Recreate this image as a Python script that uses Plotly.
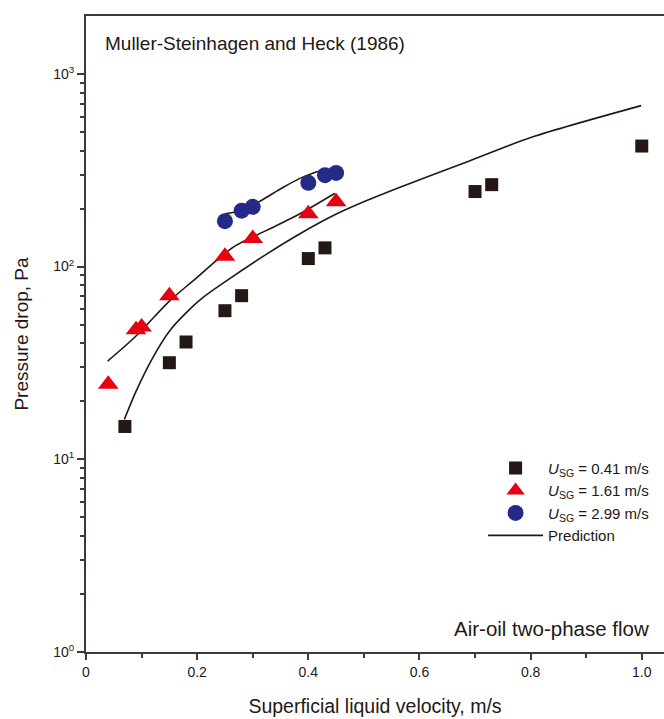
import plotly.graph_objects as go

# ---- data ----
x_041 = [0.07, 0.15, 0.18, 0.25, 0.28, 0.40, 0.43, 0.70, 0.73, 1.00]
y_041 = [14.8, 31.7, 40.6, 59, 70.6, 110, 125, 245, 266, 422]

x_161 = [0.04, 0.09, 0.10, 0.15, 0.25, 0.30, 0.40, 0.45]
y_161 = [24.5, 47, 48.5, 70.6, 113, 140, 188, 217]

x_299 = [0.25, 0.28, 0.30, 0.40, 0.43, 0.45]
y_299 = [172, 195, 204, 272, 298, 306]

px_041 = [0.069, 0.09, 0.12, 0.15, 0.18, 0.21, 0.252, 0.325, 0.385, 0.445, 0.505, 0.565, 0.685, 0.804, 0.999]
py_041 = [16.1, 22.5, 33.6, 46.2, 57.5, 68.9, 84, 116, 148, 184, 220, 258, 349, 471, 684]

px_161 = [0.039, 0.09, 0.15, 0.192, 0.265, 0.325, 0.385, 0.448]
py_161 = [32.3, 43.6, 66.2, 84, 126, 154, 188, 240]

px_299 = [0.25, 0.277, 0.31, 0.355, 0.39, 0.421, 0.451]
py_299 = [188, 195, 216, 258, 291, 313, 322]

x_tickvals = [0, 0.2, 0.4, 0.6, 0.8, 1.0]
x_ticktext = ["0", "0.2", "0.4", "0.6", "0.8", "1.0"]
y_tickvals = [1, 10, 100, 1000]
y_ticktext = ["10<sup>0</sup>", "10<sup>1</sup>", "10<sup>2</sup>", "10<sup>3</sup>"]

FONT = "Liberation Sans, Arial, sans-serif"
AXC = "#3e3a39"
BLK = "#231815"
RED = "#e60012"
BLUE = "#252a88"

fig = go.Figure()

line_style = dict(color=BLK, width=1.6, shape="spline", smoothing=0.8)
fig.add_trace(go.Scatter(x=px_041, y=py_041, mode="lines", line=line_style,
                         name="Prediction", showlegend=False))
fig.add_trace(go.Scatter(x=px_161, y=py_161, mode="lines", line=line_style,
                         showlegend=False))
fig.add_trace(go.Scatter(x=px_299, y=py_299, mode="lines", line=line_style,
                         showlegend=False))

fig.add_trace(go.Scatter(x=x_041, y=y_041, mode="markers",
                         marker=dict(symbol="square", size=13, color=BLK),
                         name="<i>U</i><sub>SG</sub> = 0.41 m/s"))
fig.add_trace(go.Scatter(x=x_161, y=y_161, mode="markers",
                         marker=dict(symbol="triangle-up", size=18, color=RED),
                         name="<i>U</i><sub>SG</sub> = 1.61 m/s"))
fig.add_trace(go.Scatter(x=x_299, y=y_299, mode="markers",
                         marker=dict(symbol="circle", size=16, color=BLUE),
                         name="<i>U</i><sub>SG</sub> = 2.99 m/s"))
# legend entry for the prediction line
fig.add_trace(go.Scatter(x=[None], y=[None], mode="lines",
                         line=dict(color=BLK, width=1.6), name="Prediction"))

fig.update_layout(
    width=664, height=719,
    margin=dict(l=86, r=0, t=16, b=67),
    paper_bgcolor="white", plot_bgcolor="white",
    font=dict(family=FONT, color=BLK, size=14),
    showlegend=True,
    legend=dict(x=0.687, y=0.315, xanchor="left", yanchor="top",
                bgcolor="rgba(0,0,0,0)", font=dict(size=15, family=FONT, color=BLK),
                tracegroupgap=0, itemwidth=55),
    annotations=[
        dict(text="Muller-Steinhagen and Heck (1986)", xref="paper", yref="paper",
             x=0.0294, y=0.956, xanchor="left", yanchor="middle", showarrow=False,
             font=dict(size=19, family=FONT, color=BLK)),
        dict(text="Air-oil two-phase flow", xref="paper", yref="paper",
             x=0.9775, y=0.0377, xanchor="right", yanchor="middle", showarrow=False,
             font=dict(size=20.5, family=FONT, color=BLK)),
    ],
)

fig.update_xaxes(
    range=[0, 1.04], showgrid=False, zeroline=False,
    showline=True, linecolor=AXC, linewidth=2, mirror=True,
    ticks="outside", ticklen=6, tickwidth=1.5, tickcolor=AXC,
    tickvals=x_tickvals, ticktext=x_ticktext,
    tickfont=dict(size=14, family=FONT, color=BLK),
    minor=dict(ticks="outside", ticklen=4, tickwidth=1.5, tickcolor=AXC, dtick=0.1, showgrid=False),
    title=dict(text="Superficial liquid velocity, m/s", standoff=21,
               font=dict(size=19.5, family=FONT, color=BLK)),
)
fig.update_yaxes(
    type="log", range=[0, 3.3], showgrid=False, zeroline=False,
    showline=True, linecolor=AXC, linewidth=2,
    ticks="outside", ticklen=7, tickwidth=1.5, tickcolor=AXC,
    tickvals=y_tickvals, ticktext=y_ticktext,
    tickfont=dict(size=14, family=FONT, color=BLK),
    minor=dict(ticks="outside", ticklen=4, tickwidth=1.5, tickcolor=AXC,
               tickvals=[m * d for d in (1, 10, 100, 1000) for m in range(2, 10)], showgrid=False),
    title=dict(text="Pressure drop, Pa", standoff=20,
               font=dict(size=19, family=FONT, color=BLK)),
)

fig.write_html("out.html")
